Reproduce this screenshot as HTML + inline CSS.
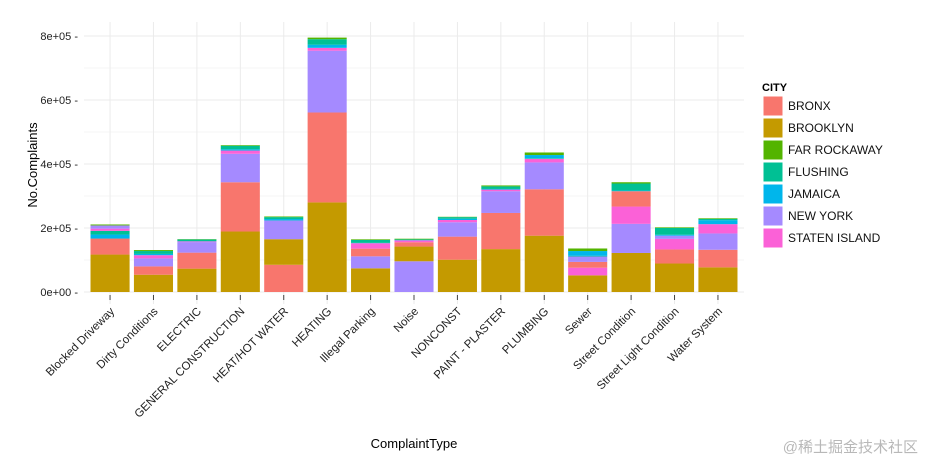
<!DOCTYPE html>
<html><head><meta charset="utf-8"><style>
body{margin:0;background:#fff;}
svg text{font-family:"Liberation Sans",Arial,sans-serif;}
</style></head><body>
<svg id="chart" width="926" height="464" xmlns="http://www.w3.org/2000/svg">
<g id="grid"></g>
<g id="bars"></g>
<g id="yaxis"></g>
<g id="xaxis"></g>
<text transform="translate(37,165) rotate(-90)" text-anchor="middle" font-size="13" fill="#000">No.Complaints</text>
<text x="414" y="448" text-anchor="middle" font-size="13" fill="#000">ComplaintType</text>
<g id="legend"></g>
<text x="918" y="452" text-anchor="end" font-size="15" fill="#b8b8b8" style="font-family:'Liberation Sans','Noto Sans CJK SC',sans-serif">@稀土掘金技术社区</text>
</svg>
<script>
const categories=["Blocked Driveway","Dirty Conditions","ELECTRIC","GENERAL CONSTRUCTION","HEAT/HOT WATER","HEATING","Illegal Parking","Noise","NONCONST","PAINT - PLASTER","PLUMBING","Sewer","Street Condition","Street Light Condition","Water System"];
const cities=["BRONX","BROOKLYN","FAR ROCKAWAY","FLUSHING","JAMAICA","NEW YORK","STATEN ISLAND"];
const bronx=[50000,26000,50000,154000,85000,281000,24000,13500,72000,113000,145000,18000,48000,44000,55000];
const brooklyn=[117000,54000,73000,189000,80000,280000,74000,46000,101000,134000,176000,52000,122000,89000,77000];
const farRockaway=[3000,3000,1000,2000,2000,5000,2000,2000,1000,3000,8000,8000,4000,2000,2000];
const flushing=[11500,9000,5000,11000,6000,17000,9000,2000,5000,8000,2000,2000,22000,21000,4000];
const jamaica=[12500,4000,1000,4000,5000,10000,1000,1000,4000,2000,10000,15000,2000,3000,12500];
const newYork=[10000,25000,33000,89000,57000,193000,37500,96000,45000,68000,84000,17000,91000,10000,51000];
const statenIsland=[7000,10000,2000,10000,1000,9000,17000,6000,7000,5000,11000,24000,54000,33000,29000];
const stackOrder=[[1,0,4,3,6,5,2],[1,0,5,6,4,3,2],[1,0,5,6,4,3,2],[1,0,5,6,4,3,2],[0,1,5,6,4,3,2],[1,0,5,6,4,3,2],[1,5,0,6,4,3,2],[5,1,0,6,4,3,2],[1,0,5,6,4,3,2],[1,0,5,6,4,3,2],[1,0,5,6,3,4,2],[1,6,0,5,3,4,2],[1,5,6,0,4,3,2],[1,0,6,5,4,3,2],[1,0,5,6,4,3,2]];
const yTicks=[0,200000,400000,600000,800000];
const yTickLabels=["0e+00","2e+05","4e+05","6e+05","8e+05"];
const colors=["#F8766D","#C49A00","#53B400","#00C094","#00B6EB","#A58AFF","#FB61D7"];
const series=[bronx,brooklyn,farRockaway,flushing,jamaica,newYork,statenIsland];
const NS="http://www.w3.org/2000/svg";
const pL=84,pR=744,pT=22,pB=304;
const y=v=>292-v*320/1e6;
const step=(pR-pL)/(categories.length+0.2);
const x=i=>pL+step*(0.6+i);
const bw=step*0.9;
function mk(tag,attrs,parent){const e=document.createElementNS(NS,tag);for(const k in attrs)e.setAttribute(k,attrs[k]);parent.appendChild(e);return e;}
const grid=document.getElementById('grid');
mk('rect',{x:pL,y:pT,width:pR-pL,height:pB-pT,fill:'#fff'},grid);
for(let v=100000;v<=900000;v+=200000){if(y(v)>pT)mk('line',{x1:pL,x2:pR,y1:y(v),y2:y(v),stroke:'#f3f3f3','stroke-width':0.8},grid);}
yTicks.forEach(v=>mk('line',{x1:pL,x2:pR,y1:y(v),y2:y(v),stroke:'#ebebeb','stroke-width':1},grid));
categories.forEach((c,i)=>mk('line',{x1:x(i),x2:x(i),y1:pT,y2:pB,stroke:'#ebebeb','stroke-width':1},grid));
const bars=document.getElementById('bars');
categories.forEach((c,i)=>{let base=0;stackOrder[i].forEach(ci=>{const v=series[ci][i];
const r=mk('rect',{x:x(i)-bw/2,y:y(base+v),width:bw,height:y(base)-y(base+v),fill:colors[ci]},bars);


base+=v;});});
const ya=document.getElementById('yaxis');
yTicks.forEach((v,i)=>{const t=mk('text',{x:78,y:y(v)+4,'text-anchor':'end','font-size':11,fill:'#222'},ya);t.textContent=yTickLabels[i]+' -';

});
const xa=document.getElementById('xaxis');
categories.forEach((c,i)=>{mk('line',{x1:x(i),x2:x(i),y1:295,y2:300,stroke:'#444'},xa);
const t=mk('text',{transform:`translate(${x(i)+5},${312}) rotate(-45)`,'text-anchor':'end','font-size':11.5,fill:'#222'},xa);t.textContent=c;

});
const lg=document.getElementById('legend');
const tt=mk('text',{x:762,y:91,'font-size':11,'font-weight':'bold',fill:'#000'},lg);tt.textContent='CITY';
cities.forEach((c,i)=>{const yy=96+i*22;
const r=mk('rect',{x:763,y:yy,width:20,height:20,fill:colors[i],stroke:'#fff'},lg);


const t=mk('text',{x:788,y:yy+14,'font-size':12,fill:'#111'},lg);t.textContent=c;

});
</script>
</body></html>
